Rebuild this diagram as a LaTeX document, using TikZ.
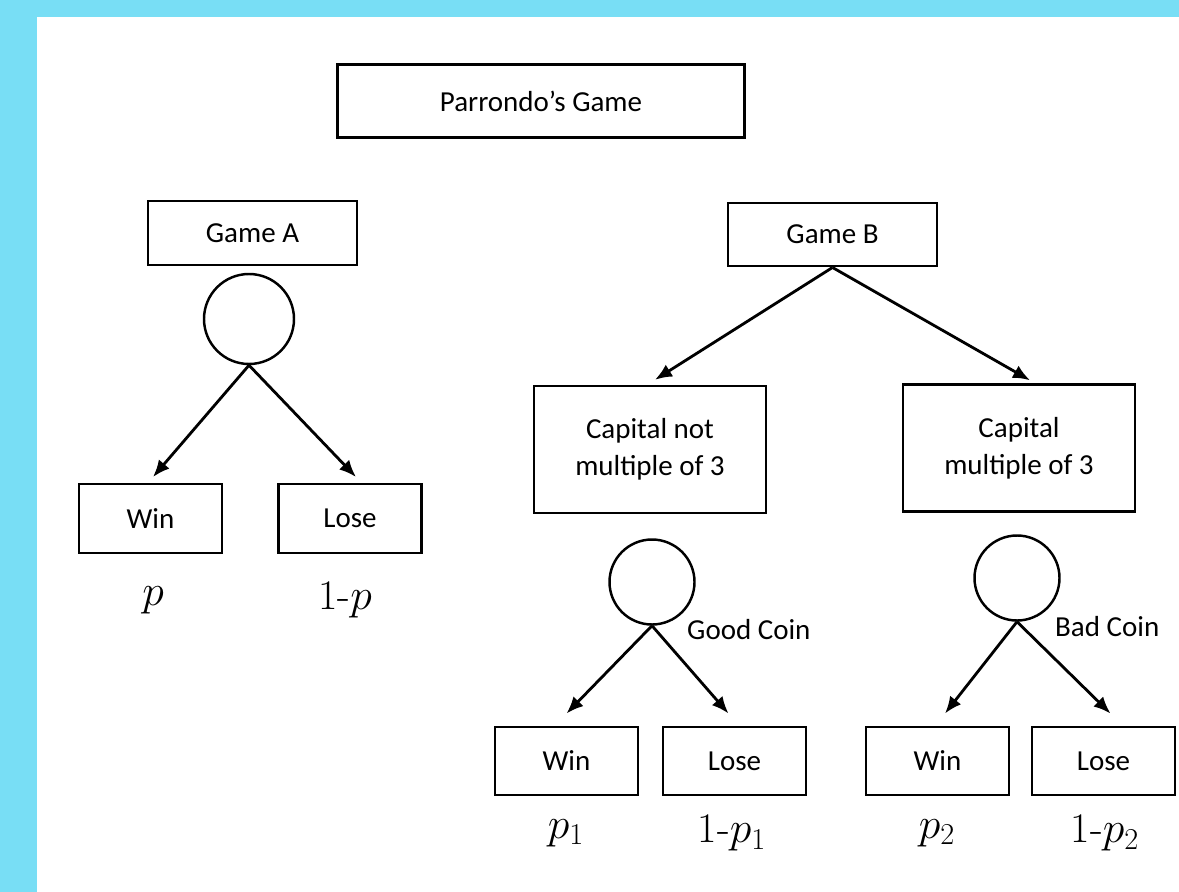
\documentclass[tikz,border=0pt]{standalone}
\usepackage{fontspec}
\setsansfont{Carlito}
\usetikzlibrary{arrows.meta,positioning}
\definecolor{framecyan}{RGB}{120,222,245}

\begin{document}
\begin{tikzpicture}[
  box/.style={
    draw=black,
    line width=1.4pt,
    minimum width=2.86cm,
    minimum height=1.37cm,
    inner sep=1mm,
    align=center,
    font=\sffamily\fontsize{16.5}{21}\selectfont
  },
  gamebox/.style={box,minimum width=4.18cm,minimum height=1.27cm},
  statebox/.style={box,minimum width=4.64cm,minimum height=2.54cm},
  coin/.style={
    draw=black,
    line width=1.4pt,
    circle,
    inner sep=0pt
  },
  prob/.style={font=\fontsize{24}{28}\selectfont},
  coinlabel/.style={anchor=west,font=\sffamily\fontsize{16.5}{21}\selectfont},
  flow/.style={
    draw=black,
    line width=1.6pt,
    -{Latex[length=3.4mm,width=2.8mm]}
  }
]

% Frame
\fill[framecyan] (0,0) rectangle (23.58,-17.84);
\fill[white] (0.74,-0.34) rectangle (23.58,-17.84);
\useasboundingbox (0,0) rectangle (23.58,-17.84);

% Title
\node[box,minimum width=8.14cm,minimum height=1.46cm] (title) at (10.82,-2.02)
  {Parrondo’s Game};

% Game A
\node[gamebox] (gameA) at (5.05,-4.66) {Game A};
\node[coin,minimum size=1.8cm] (coinA) at (4.98,-6.38) {};
\node[box] (winA) at (3.01,-10.37) {Win};
\node[box] (loseA) at (7.0,-10.37) {Lose};
\node[prob] (probWinA) at (3.06,-12.0) {$p$};
\node[prob] (probLoseA) at (6.9,-12.0) {1-$p$};

% Game B
\node[gamebox] (gameB) at (16.65,-4.69) {Game B};
\node[statebox] (capNot) at (13.0,-8.99) {Capital not\\multiple of 3};
\node[statebox] (capMul) at (20.38,-8.96) {Capital\\multiple of 3};

\node[coin,minimum size=1.7cm] (coinGood) at (13.04,-11.64) {};
\node[coin,minimum size=1.7cm] (coinBad) at (20.34,-11.56) {};
\node[coinlabel] (goodLabel) at (13.62,-12.6) {Good Coin};
\node[coinlabel] (badLabel) at (20.98,-12.54) {Bad Coin};

\node[box] (winGood) at (11.33,-15.22) {Win};
\node[box] (loseGood) at (14.69,-15.22) {Lose};
\node[box] (winBad) at (18.75,-15.22) {Win};
\node[box] (loseBad) at (22.07,-15.22) {Lose};

\node[prob] (probWinGood) at (11.32,-16.66) {$p_1$};
\node[prob] (probLoseGood) at (14.64,-16.66) {1-$p_1$};
\node[prob] (probWinBad) at (18.74,-16.66) {$p_2$};
\node[prob] (probLoseBad) at (22.1,-16.66) {1-$p_2$};

% Connectors
\draw[flow] (coinA.south) -- ([xshift=0.05cm,yshift=0.12cm]winA.north);
\draw[flow] (coinA.south) -- ([xshift=0.12cm,yshift=0.12cm]loseA.north);

\draw[flow] (gameB.south) -- ([xshift=0.1cm,yshift=0.1cm]capNot.north);
\draw[flow] (gameB.south) -- ([xshift=0.22cm,yshift=0.06cm]capMul.north);

\draw[flow] (coinGood.south) -- ([yshift=0.24cm]winGood.north);
\draw[flow] (coinGood.south) -- ([xshift=-0.12cm,yshift=0.24cm]loseGood.north);
\draw[flow] (coinBad.south) -- ([xshift=0.15cm,yshift=0.24cm]winBad.north);
\draw[flow] (coinBad.south) -- ([xshift=0.14cm,yshift=0.24cm]loseBad.north);

\end{tikzpicture}
\end{document}
